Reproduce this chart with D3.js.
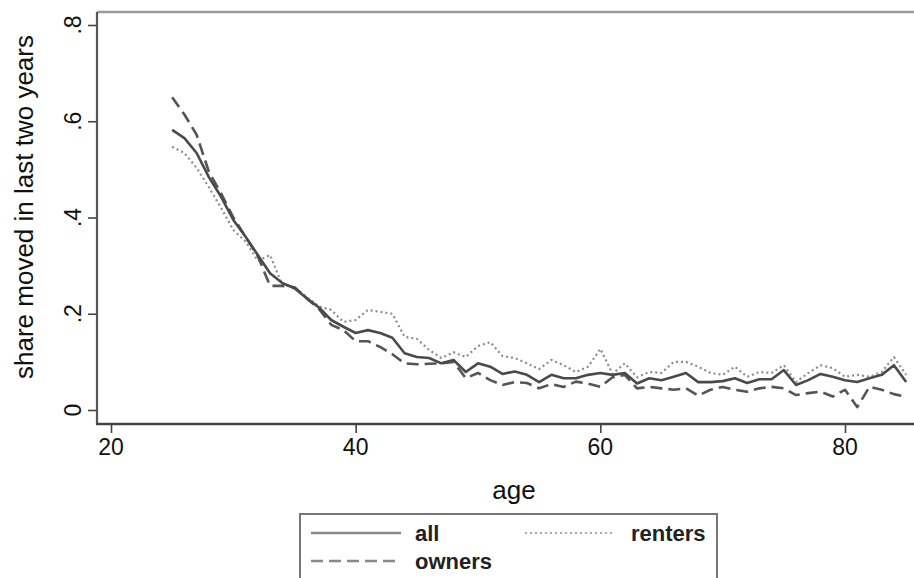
<!DOCTYPE html>
<html>
<head>
<meta charset="utf-8">
<script src="https://cdn.jsdelivr.net/npm/d3@7"></script>
<style>
  body { margin: 0; background: #fff; }
  svg { display: block; font-family: "Liberation Sans", Arial, Helvetica, sans-serif; }
  .tick-label { font-size: 23px; fill: #111; }
  .axis-title { font-size: 26px; fill: #111; }
  .legend-text { font-size: 22px; font-weight: bold; fill: #222; }
</style>
</head>
<body>
<div id="chart"></div>
<script>
const ages = [25, 26, 27, 28, 29, 30, 31, 32, 33, 34, 35, 36, 37, 38, 39, 40, 41, 42, 43, 44,
    45, 46, 47, 48, 49, 50, 51, 52, 53, 54, 55, 56, 57, 58, 59, 60, 61, 62, 63, 64,
    65, 66, 67, 68, 69, 70, 71, 72, 73, 74, 75, 76, 77, 78, 79, 80, 81, 82, 83, 84, 85];

const allShare = [.582, .565, .534, .484, .443, .395, .36, .322, .284, .264, .253, .232, .213, .187, .173, .16, .166, .16, .15, .118,
    .11, .108, .097, .104, .079, .097, .09, .075, .08, .073, .058, .073, .066, .066, .073, .077, .073, .077, .055, .066,
    .062, .069, .077, .058, .058, .06, .066, .056, .064, .064, .083, .052, .062, .075, .069, .062, .058, .066, .073, .093, .058];

const ownersShare = [.65, .614, .572, .495, .45, .40, .36, .32, .258, .258, .255, .232, .21, .177, .166, .143, .143, .131, .116, .097,
    .095, .096, .097, .1, .066, .077, .062, .052, .058, .056, .045, .054, .048, .059, .055, .048, .068, .073, .045, .048,
    .045, .042, .045, .03, .042, .048, .042, .038, .045, .048, .045, .031, .035, .038, .028, .042, .006, .048, .042, .033, .027];

const rentersShare = [.547, .534, .503, .463, .42, .374, .35, .31, .322, .26, .255, .235, .215, .208, .183, .187, .208, .204, .2, .152,
    .148, .125, .108, .12, .11, .133, .141, .112, .108, .097, .085, .104, .093, .079, .09, .127, .075, .097, .068, .079,
    .077, .1, .1, .09, .077, .073, .09, .069, .079, .077, .093, .058, .077, .093, .087, .069, .073, .069, .079, .11, .073];

const xTicks = [20, 40, 60, 80];
const yTicks = [0, 0.2, 0.4, 0.6, 0.8];
const yTickLabels = ["0", ".2", ".4", ".6", ".8"];

const seriesList = [
    { name: "all", values: allShare, color: "#4a4a4a", width: 2.6, dash: null },
    { name: "owners", values: ownersShare, color: "#555", width: 2.6, dash: "12,6" },
    { name: "renters", values: rentersShare, color: "#8c8c8c", width: 2.2, dash: "2,3" }
];

const W = 914, H = 578;
const frame = { left: 97, top: 12, right: 940, bottom: 424 };

const svg = d3.select("#chart").append("svg")
    .attr("width", W)
    .attr("height", H);

const x = d3.scaleLinear().domain([20, 80]).range([111, 845]);
const y = d3.scaleLinear().domain([0, 0.8]).range([410, 25]);

// plot region outline (right side runs off the picture)
svg.append("line")
    .attr("x1", frame.left).attr("x2", frame.right)
    .attr("y1", frame.top).attr("y2", frame.top)
    .attr("stroke", "#9a9a9a").attr("stroke-width", 2.5);

// y axis
const yAxis = svg.append("g")
    .attr("transform", `translate(${frame.left},0)`)
    .call(d3.axisLeft(y).tickValues(yTicks).tickSize(9).tickFormat(""));
yAxis.select(".domain").remove();
yAxis.selectAll(".tick line").attr("stroke", "#444").attr("stroke-width", 1.6);
svg.append("line")
    .attr("x1", frame.left).attr("x2", frame.left)
    .attr("y1", frame.top).attr("y2", frame.bottom)
    .attr("stroke", "#555").attr("stroke-width", 2.2);

svg.selectAll(".ytl")
    .data(yTicks)
    .enter()
    .append("text")
    .attr("class", "tick-label")
    .attr("transform", d => `translate(81,${y(d)}) rotate(-90)`)
    .attr("text-anchor", "middle")
    .text((d, i) => yTickLabels[i]);

// x axis
const xAxis = svg.append("g")
    .attr("transform", `translate(0,${frame.bottom})`)
    .call(d3.axisBottom(x).tickValues(xTicks).tickSize(9).tickFormat(""));
xAxis.select(".domain").remove();
xAxis.selectAll(".tick line").attr("stroke", "#444").attr("stroke-width", 1.6);
svg.append("line")
    .attr("x1", frame.left - 1).attr("x2", frame.right)
    .attr("y1", frame.bottom).attr("y2", frame.bottom)
    .attr("stroke", "#444").attr("stroke-width", 2.4);

svg.selectAll(".xtl")
    .data(xTicks)
    .enter()
    .append("text")
    .attr("class", "tick-label")
    .attr("x", d => x(d))
    .attr("y", 455)
    .attr("text-anchor", "middle")
    .text(d => d);

// axis titles
svg.append("text")
    .attr("class", "axis-title")
    .attr("x", 514)
    .attr("y", 499)
    .attr("text-anchor", "middle")
    .text("age");

svg.append("text")
    .attr("class", "axis-title")
    .attr("transform", "translate(33,207) rotate(-90)")
    .attr("text-anchor", "middle")
    .text("share moved in last two years");

// lines
const line = d3.line()
    .x((d, i) => x(ages[i]))
    .y(d => y(d));

seriesList.slice().reverse().forEach(s => {
    svg.append("path")
        .datum(s.values)
        .attr("fill", "none")
        .attr("stroke", s.color)
        .attr("stroke-width", s.width)
        .attr("stroke-linejoin", "round")
        .attr("stroke-dasharray", s.dash)
        .attr("d", line);
});

// legend
const legend = svg.append("g");
legend.append("rect")
    .attr("x", 300).attr("y", 514)
    .attr("width", 417).attr("height", 90)
    .attr("fill", "#fff")
    .attr("stroke", "#777").attr("stroke-width", 2);

const legendItems = [
    { s: seriesList[0], lx: 311, ly: 533, tx: 415 },
    { s: seriesList[1], lx: 311, ly: 561, tx: 415 },
    { s: seriesList[2], lx: 525, ly: 533, tx: 631 }
];

legendItems.forEach(item => {
    legend.append("line")
        .attr("x1", item.lx).attr("x2", item.lx + 90)
        .attr("y1", item.ly).attr("y2", item.ly)
        .attr("stroke", item.s.name === "renters" ? "#aaa" : "#888")
        .attr("stroke-width", item.s.name === "renters" ? 2 : 2.6)
        .attr("stroke-dasharray", item.s.dash);
    legend.append("text")
        .attr("class", "legend-text")
        .attr("x", item.tx)
        .attr("y", item.ly + 8)
        .text(item.s.name);
});
</script>
</body>
</html>
